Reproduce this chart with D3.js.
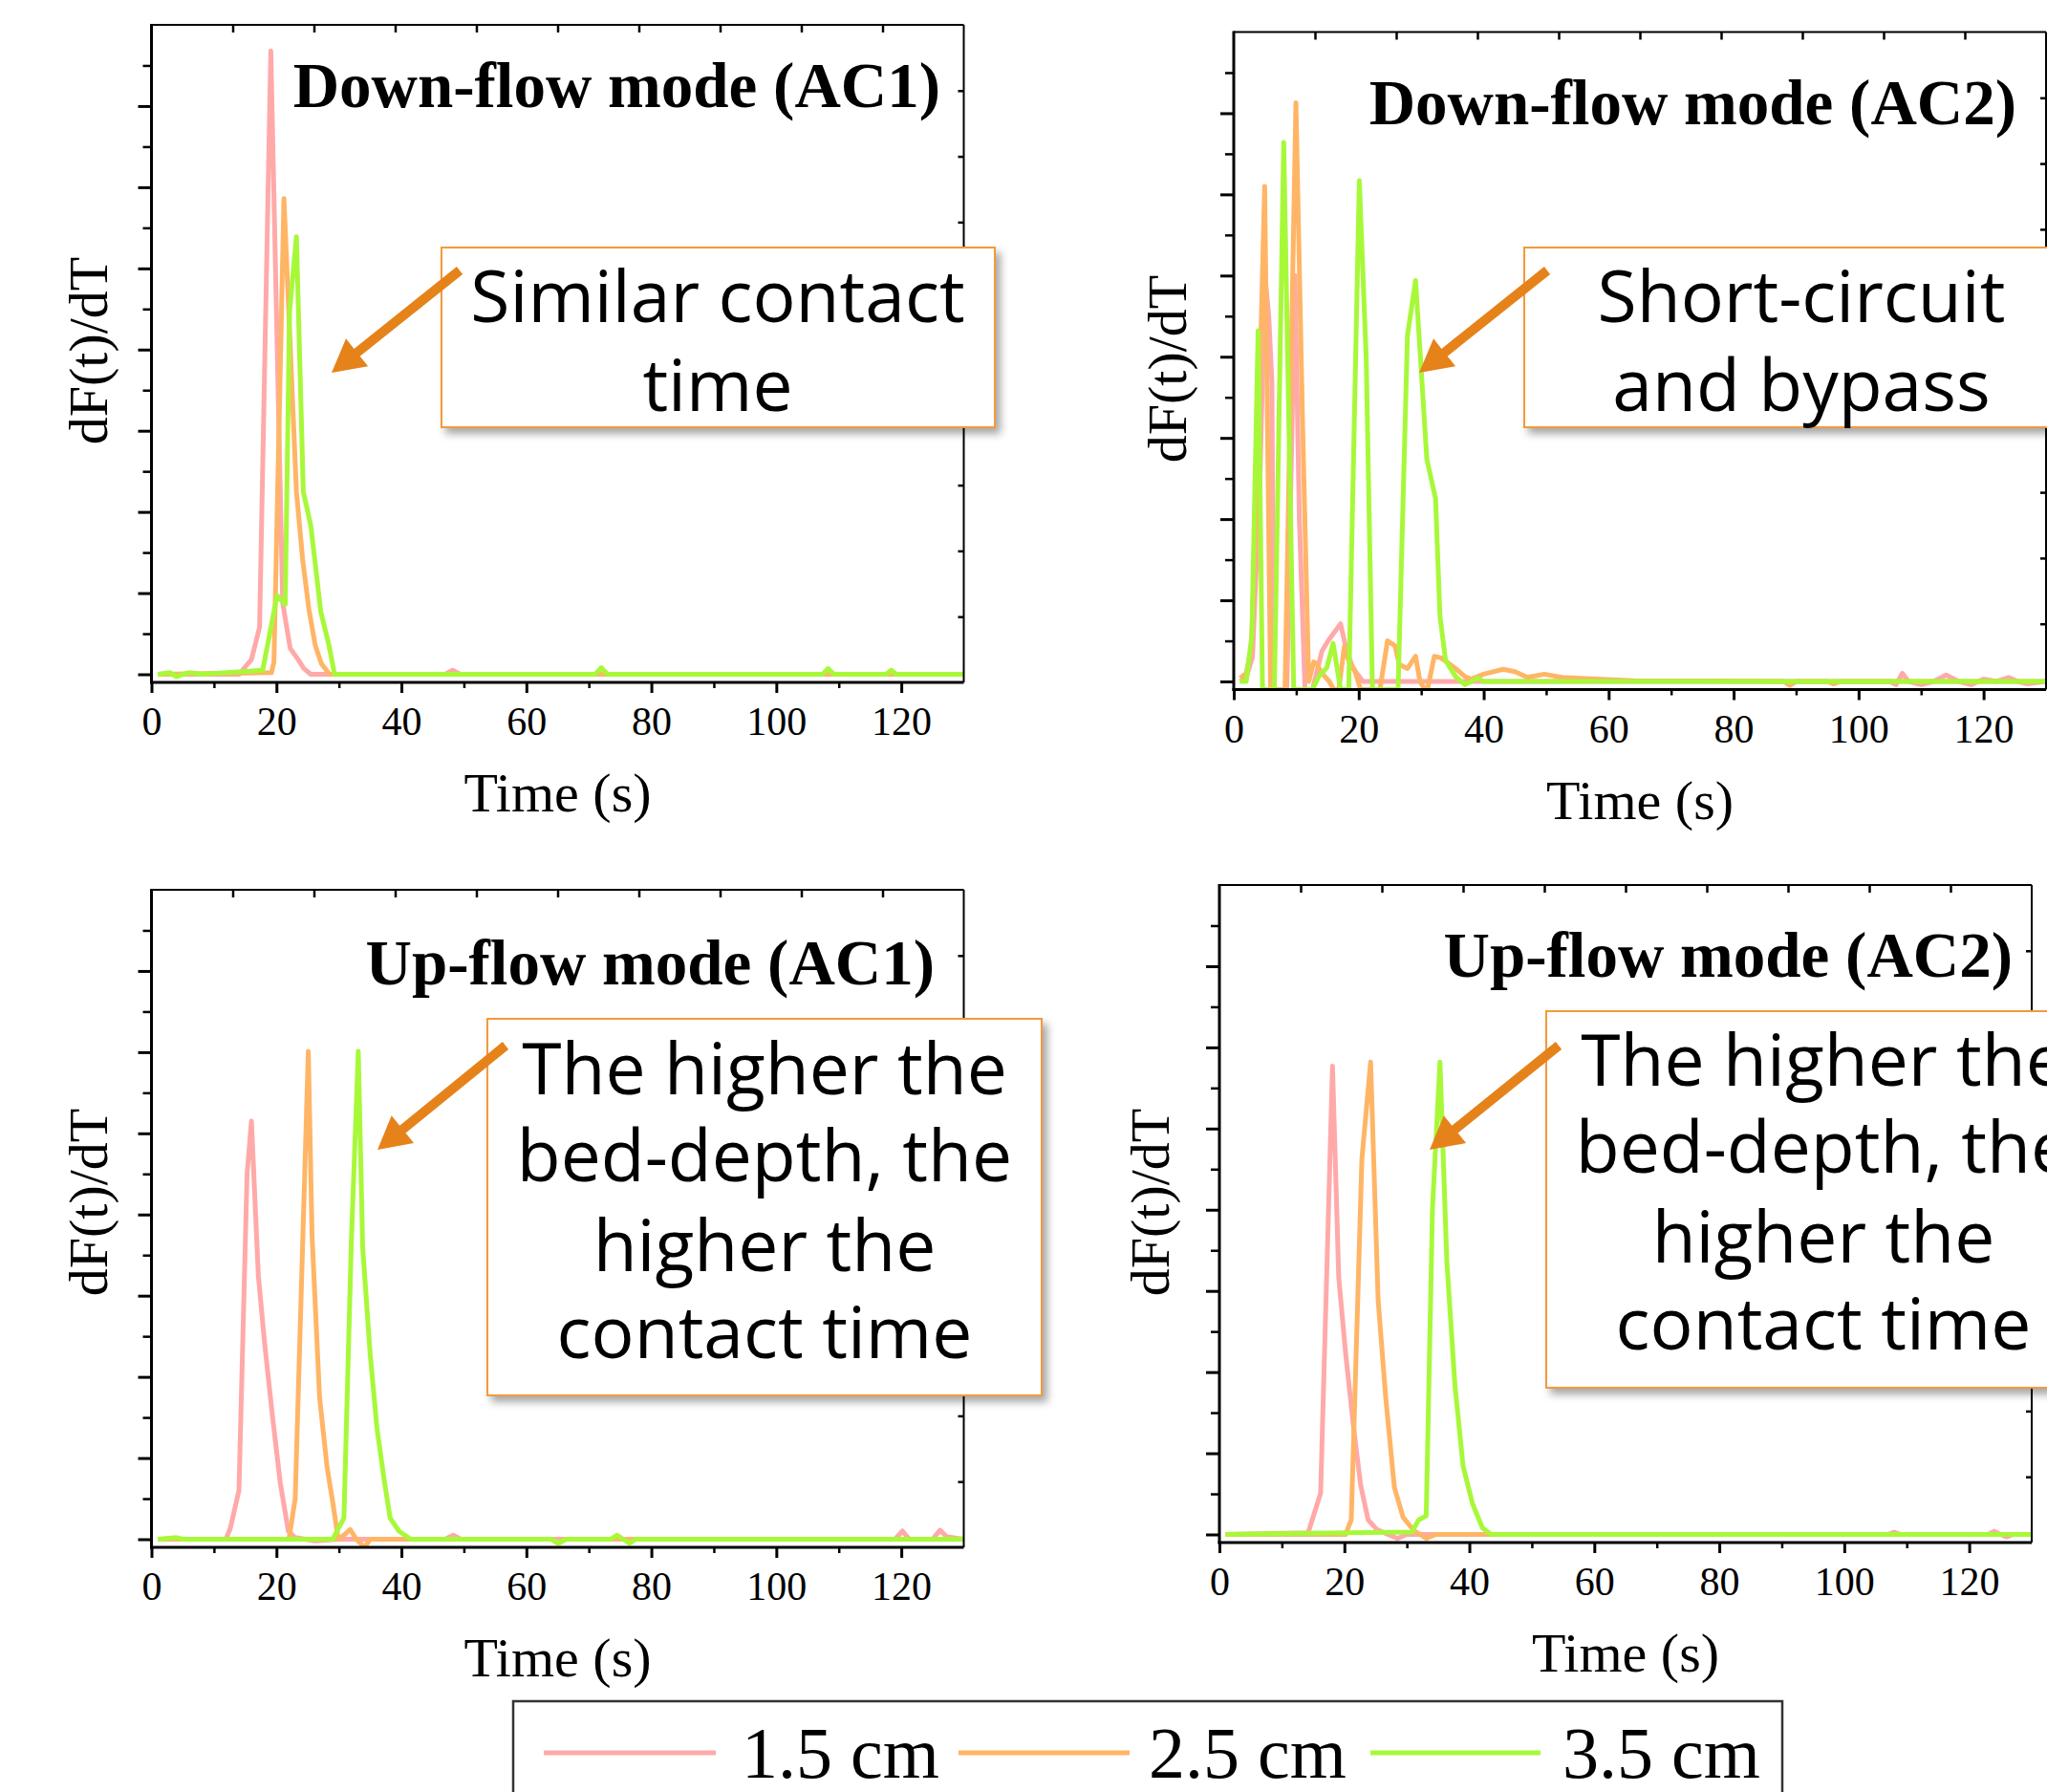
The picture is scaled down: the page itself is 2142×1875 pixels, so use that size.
<!DOCTYPE html>
<html>
<head>
<meta charset="utf-8">
<script src="https://cdn.jsdelivr.net/npm/d3@7"></script>
<style>
  html, body { margin: 0; padding: 0; background: #fff; }
  svg { display: block; }
</style>
</head>
<body>
<div id="vis"></div>
<script>
const seriesLabels = ['1.5 cm', '2.5 cm', '3.5 cm']
const seriesColors = ['#FFA9A9', '#FFB566', '#A8F83A']
const xTickValues = [0, 20, 40, 60, 80, 100, 120]
const xMinorTicks = [10, 30, 50, 70, 90, 110]
const yMajorTicks = [0, 1, 2, 3, 4, 5, 6, 7]
const yMinorTicks = [0.5, 1.5, 2.5, 3.5, 4.5, 5.5, 6.5, 7.5]

// [time (s), dF(t)/dT]
const downAC1Pink = [[1, 0], [14, 0], [16, 0.18], [17.3, 0.58], [19.1, 7.68], [21, 0.88], [22.2, 0.32], [23.4, 0.19], [24.4, 0.07], [25.5, 0], [47, 0], [48.2, 0.05], [49.4, 0], [130, 0]]
const downAC1Orange = [[1, 0], [19.2, 0.02], [19.6, 0.15], [21.2, 5.86], [23.2, 2.25], [24.2, 1.41], [25.2, 0.8], [26.2, 0.36], [27.2, 0.13], [28.5, 0], [130, 0]]
const downAC1Green = [[1, 0], [3, 0.02], [4, -0.03], [5, 0], [6, 0.02], [8, 0], [17.8, 0.05], [20.1, 0.97], [21.4, 0.86], [22.1, 4.47], [23.2, 5.39], [24.3, 2.25], [25.5, 1.83], [27.1, 0.77], [28.4, 0.36], [29.3, 0], [71, 0], [72, 0.08], [73, 0], [107.4, 0], [108.3, 0.07], [109.2, 0], [117.6, 0], [118.4, 0.05], [119.2, 0], [130, 0]]

const downAC2Pink = [[1, 0], [2, 0.05], [3, 0.3], [4.2, 2.5], [5, 5.0], [5.6, 4.5], [6.1, 3.7], [6.4, -0.1], [8.5, -0.1], [9.8, 5.0], [10.5, 2.0], [11.4, -0.1], [12.6, -0.1], [14.1, 0.37], [15.1, 0.5], [17.1, 0.71], [18, 0.4], [19.1, 0.16], [20.7, 0], [105, 0], [106, -0.04], [107, 0.1], [108, 0], [110, -0.04], [112, 0], [114, 0.08], [116, 0], [118, -0.04], [120, 0.03], [122, 0], [124, 0.05], [125.5, 0], [127, -0.03], [130, 0]]
const downAC2Orange = [[1, 0.04], [2, 0.1], [2.8, 0.41], [3.6, 2.0], [4.95, 6.1], [5.9, -0.1], [8.2, -0.1], [9.95, 7.13], [11, 3.24], [12, 0], [12.8, 0.24], [13.3, 0.22], [14, 0.11], [15.3, 0], [16, -0.1], [16.8, -0.1], [17.7, 0.43], [18.6, 0.21], [19.3, 0.15], [20.3, -0.1], [23.4, -0.1], [24.6, 0.5], [25.8, 0.44], [26.5, 0.21], [27.8, 0.16], [29.1, 0.31], [29.8, 0], [30.6, -0.1], [31, -0.1], [32.1, 0.31], [33.2, 0.29], [35.5, 0.16], [37, 0.06], [38, 0.03], [40, 0.09], [43.1, 0.15], [45, 0.12], [47, 0.05], [49.7, 0.09], [52.5, 0.05], [58, 0.03], [64, 0.01], [88, 0], [89, -0.05], [90, 0], [95, 0], [96, -0.03], [97, 0], [130, 0]]
const downAC2Green = [[1, 0], [2, 0], [2.9, 0.57], [3.9, 4.32], [4.6, -0.1], [6.5, -0.1], [8.0, 6.64], [9.6, -0.1], [12.6, -0.1], [13.6, 0.06], [14.9, 0.17], [15.9, 0.47], [17.1, -0.1], [18.4, -0.1], [20.1, 6.17], [21.2, 3.98], [22.2, -0.1], [26.3, -0.1], [27.8, 4.26], [29.1, 4.94], [30.9, 2.74], [32.3, 2.25], [33, 0.81], [33.9, 0.26], [35.5, 0.06], [37, -0.04], [39, 0.04], [40, 0], [130, 0]]

const upAC1Pink = [[1, 0], [11.9, 0], [12.6, 0.13], [14, 0.6], [15.3, 4.5], [16, 5.15], [17.1, 3.25], [18.1, 2.42], [19.3, 1.56], [20.6, 0.7], [21.9, 0.1], [23, 0.02], [26.2, -0.02], [30, 0], [47, 0], [48.3, 0.05], [49.5, 0], [119, 0], [120.2, 0.1], [121.3, 0], [125, 0], [126.2, 0.11], [127.3, 0.03], [130, 0]]
const upAC1Orange = [[1, 0], [22, 0], [23, 0.5], [25.1, 6.01], [25.7, 3.74], [26.9, 1.75], [28.1, 0.89], [29, 0.46], [29.9, 0], [30.8, 0.05], [31.8, 0.12], [32.8, 0], [34.1, -0.1], [35, 0], [64, 0], [65, -0.05], [66, 0], [130, 0]]
const upAC1Green = [[1, 0], [4, 0.02], [5, 0], [29, 0], [30.8, 0.26], [32, 3.7], [33.1, 6.01], [33.8, 3.6], [35, 2.28], [36.1, 1.36], [37.3, 0.7], [38.2, 0.26], [39.6, 0.1], [41.5, 0], [64, 0], [65.2, -0.05], [66.3, 0], [73.5, 0], [74.5, 0.05], [75.5, 0], [76.5, -0.05], [77.5, 0], [130, 0]]

const upAC2Pink = [[1, 0], [14.2, 0.02], [16.2, 0.51], [18.1, 5.77], [19.1, 3.16], [20.2, 2.23], [21.4, 1.37], [22.6, 0.61], [23.8, 0.18], [25.2, 0.06], [27, 0], [28.5, -0.05], [30, 0], [107, 0], [108, 0.03], [109, 0], [123, 0], [124, 0.04], [125, 0], [126, -0.03], [127, 0], [130, 0]]
const upAC2Orange = [[1, 0], [20.2, 0], [21.1, 0.18], [22.8, 4.62], [24.2, 5.82], [25.4, 2.89], [26.6, 1.7], [28, 0.58], [29.4, 0.21], [31.1, 0.05], [33.1, -0.05], [34.6, 0], [130, 0]]
const upAC2Green = [[1, 0], [8, 0.01], [30.8, 0.03], [31.9, 0.18], [33.1, 0.23], [34.1, 4.02], [35.3, 5.82], [36.4, 3.36], [37.7, 1.83], [39, 0.84], [40.5, 0.38], [42.1, 0.08], [43.5, 0], [130, 0]]

const width = 2142
const height = 1875
const plotW = 850
const plotH = 688
const xDomain = [0, 130]
const yDomain = [-0.1, 8]

const serif = "'Liberation Serif', 'Times New Roman', serif"
const sans = "'Open Sans', 'Noto Sans', sans-serif"

const panels = [
  {
    title: 'Down-flow mode (AC1)', left: 158.5, top: 26, titleX: 984, titleY: 112,
    yLabel: [112, 367], series: [downAC1Pink, downAC1Orange, downAC1Green],
    note: ['Similar contact', 'time'], box: [462, 259, 579, 188], noteX: 751, noteY: [337, 430],
    arrow: [481, 283, 347, 390]
  },
  {
    title: 'Down-flow mode (AC2)', left: 1291, top: 33.5, titleX: 2110, titleY: 130,
    yLabel: [1241, 386], series: [downAC2Pink, downAC2Orange, downAC2Green],
    note: ['Short-circuit', 'and bypass'], box: [1595, 259, 580, 188], noteX: 1885, noteY: [337, 430],
    arrow: [1619, 283, 1485, 390]
  },
  {
    title: 'Up-flow mode (AC1)', left: 158.5, top: 931, titleX: 978, titleY: 1030,
    yLabel: [112, 1258], series: [upAC1Pink, upAC1Orange, upAC1Green],
    note: ['The higher the', 'bed-depth, the', 'higher the', 'contact time'], box: [510, 1066, 580, 394], noteX: 800, noteY: [1145, 1236, 1330, 1421],
    arrow: [529, 1094, 395, 1203]
  },
  {
    title: 'Up-flow mode (AC2)', left: 1276, top: 926, titleX: 2106, titleY: 1022,
    yLabel: [1223, 1258], series: [upAC2Pink, upAC2Orange, upAC2Green],
    note: ['The higher the', 'bed-depth, the', 'higher the', 'contact time'], box: [1618, 1058, 580, 394], noteX: 1908, noteY: [1136, 1227, 1321, 1412],
    arrow: [1631, 1094, 1496, 1203]
  }
]

const svg = d3.select('#vis').append('svg')
  .attr('viewBox', [0, 0, width, height])
  .attr('width', width).attr('height', height)

const defs = svg.append('defs')
defs.append('filter')
  .attr('id', 'shadow')
  .attr('x', '-10%').attr('y', '-10%').attr('width', '130%').attr('height', '130%')
  .append('feDropShadow')
  .attr('dx', 5).attr('dy', 6).attr('stdDeviation', 4)
  .attr('flood-color', '#000').attr('flood-opacity', 0.35)

const arrowPath = (x1, y1, x2, y2) => {
  const shaft = 10
  const headW = 37
  const headL = 34
  const len = Math.hypot(x2 - x1, y2 - y1)
  const ux = (x2 - x1) / len
  const uy = (y2 - y1) / len
  const nx = -uy
  const ny = ux
  const bx = x2 - ux * headL
  const by = y2 - uy * headL
  const pts = [
    [x1 + nx * shaft / 2, y1 + ny * shaft / 2],
    [bx + nx * shaft / 2, by + ny * shaft / 2],
    [bx + nx * headW / 2, by + ny * headW / 2],
    [x2, y2],
    [bx - nx * headW / 2, by - ny * headW / 2],
    [bx - nx * shaft / 2, by - ny * shaft / 2],
    [x1 - nx * shaft / 2, y1 - ny * shaft / 2]
  ]
  return 'M' + pts.map((p) => p.join(',')).join('L') + 'Z'
}

const styleTicks = (sel, w) => {
  sel.select('.domain').remove()
  sel.selectAll('.tick line').attr('stroke', '#000').attr('stroke-width', w)
}

panels.forEach((p, i) => {
  const x = d3.scaleLinear().domain(xDomain).range([0, plotW])
  const y = d3.scaleLinear().domain(yDomain).range([plotH, 0])

  const g = svg.append('g').attr('transform', `translate(${p.left},${p.top})`)

  defs.append('clipPath').attr('id', `clip-${i}`)
    .append('rect').attr('width', plotW).attr('height', plotH)

  const line = d3.line()
    .x((d) => x(d[0]))
    .y((d) => y(d[1]))

  const lines = g.append('g').attr('clip-path', `url(#clip-${i})`)
  p.series.forEach((s, k) => {
    lines.append('path')
      .attr('d', line(s))
      .attr('fill', 'none')
      .attr('stroke', seriesColors[k])
      .attr('stroke-width', 5)
      .attr('stroke-linejoin', 'round')
  })

  // bottom axis, major + minor
  const bottom = g.append('g')
    .attr('transform', `translate(0,${plotH})`)
    .call(d3.axisBottom(x).tickValues(xTickValues).tickSizeInner(11).tickSizeOuter(0))
  styleTicks(bottom, 3)
  bottom.selectAll('.tick text')
    .attr('y', 55).attr('dy', null)
    .attr('font-family', serif).attr('font-size', 42).attr('fill', '#000')

  const bottomMinor = g.append('g')
    .attr('transform', `translate(0,${plotH})`)
    .call(d3.axisBottom(x).tickValues(xMinorTicks).tickSizeInner(6).tickSizeOuter(0).tickFormat(''))
  styleTicks(bottomMinor, 2.5)

  // left axis, major + minor, no labels
  const left = g.append('g')
    .call(d3.axisLeft(y).tickValues(yMajorTicks).tickSizeInner(14).tickSizeOuter(0).tickFormat(''))
  styleTicks(left, 3)
  const leftMinor = g.append('g')
    .call(d3.axisLeft(y).tickValues(yMinorTicks).tickSizeInner(9).tickSizeOuter(0).tickFormat(''))
  styleTicks(leftMinor, 2.5)

  // top and right frame ticks split the frame in ten
  const topTicks = d3.range(1, 10).map((k) => xDomain[0] + k * (xDomain[1] - xDomain[0]) / 10)
  const rightTicks = d3.range(1, 10).map((k) => yDomain[0] + k * (yDomain[1] - yDomain[0]) / 10)
  const top = g.append('g')
    .call(d3.axisBottom(x).tickValues(topTicks).tickSizeInner(8).tickSizeOuter(0).tickFormat(''))
  styleTicks(top, 2.5)
  const right = g.append('g')
    .attr('transform', `translate(${plotW},0)`)
    .call(d3.axisLeft(y).tickValues(rightTicks).tickSizeInner(6).tickSizeOuter(0).tickFormat(''))
  styleTicks(right, 2.5)

  // frame
  g.append('line').attr('x1', 0).attr('x2', plotW).attr('y1', 0).attr('y2', 0)
    .attr('stroke', '#000').attr('stroke-width', 2)
  g.append('line').attr('x1', plotW).attr('x2', plotW).attr('y1', 0).attr('y2', plotH)
    .attr('stroke', '#000').attr('stroke-width', 2)
  g.append('line').attr('x1', 0).attr('x2', 0).attr('y1', -1).attr('y2', plotH + 1.5)
    .attr('stroke', '#000').attr('stroke-width', 3)
  g.append('line').attr('x1', -1.5).attr('x2', plotW).attr('y1', plotH).attr('y2', plotH)
    .attr('stroke', '#000').attr('stroke-width', 3)

  g.append('text')
    .attr('x', plotW / 2).attr('y', plotH + 135)
    .attr('text-anchor', 'middle')
    .attr('font-family', serif).attr('font-size', 58)
    .text('Time (s)')

  svg.append('text')
    .attr('transform', `translate(${p.yLabel[0]},${p.yLabel[1]}) rotate(-90)`)
    .attr('text-anchor', 'middle')
    .attr('font-family', serif).attr('font-size', 58)
    .text('dF(t)/dT')

  svg.append('text')
    .attr('x', p.titleX).attr('y', p.titleY)
    .attr('text-anchor', 'end')
    .attr('font-family', serif).attr('font-size', 67).attr('font-weight', 'bold')
    .text(p.title)

  // annotation box + arrow
  const note = svg.append('g')
  note.append('rect')
    .attr('x', p.box[0]).attr('y', p.box[1])
    .attr('width', p.box[2]).attr('height', p.box[3])
    .attr('fill', '#fff')
    .attr('stroke', '#F39A3A').attr('stroke-width', 2)
    .attr('filter', 'url(#shadow)')
  p.note.forEach((t, j) => {
    note.append('text')
      .attr('x', p.noteX).attr('y', p.noteY[j])
      .attr('text-anchor', 'middle')
      .attr('font-family', sans).attr('font-size', 75)
      .attr('fill', '#000')
      .text(t)
  })
  note.append('path')
    .attr('d', arrowPath(...p.arrow))
    .attr('fill', '#E5831A')
})

// legend
const legendItems = [[569, 749, 776], [1003, 1182, 1202], [1434, 1612, 1635]]
const legend = svg.append('g').attr('class', 'legend')
legend.append('rect')
  .attr('x', 537).attr('y', 1780)
  .attr('width', 1328).attr('height', 140)
  .attr('fill', '#fff')
  .attr('stroke', '#333').attr('stroke-width', 2.5)
seriesLabels.forEach((label, k) => {
  const [x1, x2, tx] = legendItems[k]
  legend.append('line')
    .attr('x1', x1).attr('x2', x2).attr('y1', 1834).attr('y2', 1834)
    .attr('stroke', seriesColors[k]).attr('stroke-width', 5)
  legend.append('text')
    .attr('x', tx).attr('y', 1860)
    .attr('font-family', serif).attr('font-size', 76)
    .text(label)
})
</script>
</body>
</html>
